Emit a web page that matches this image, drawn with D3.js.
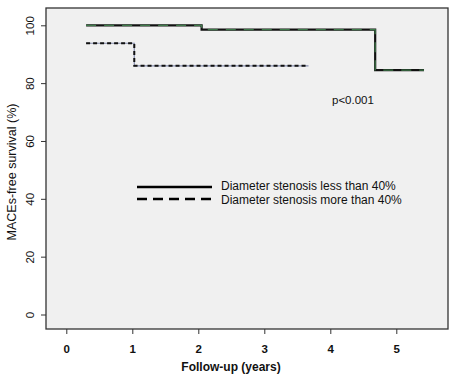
<!DOCTYPE html>
<html><head><meta charset="utf-8">
<script src="https://cdn.jsdelivr.net/npm/d3@7"></script>
<style>body{margin:0;background:#fff}svg{display:block;font-family:Arial,"Liberation Sans",sans-serif}</style>
</head><body><svg id="c" width="458" height="378"></svg>
<script>
const xTicks=[0,1,2,3,4,5];
const yTicks=[0,20,40,60,80,100];
const lessTime=[0.3,2.05,4.68,5.42];
const lessSurv=[100,98.5,84.5,84.5];
const moreTime=[0.3,1.03,3.67];
const moreSurv=[93.8,86,86];
const legendLabels=["Diameter stenosis less than 40%","Diameter stenosis more than 40%"];
const pText="p<0.001";

const svg=d3.select("#c");
const L=46,R=448,T=8,B=329;
const x=d3.scaleLinear().domain([0,5]).range([66.3,396.3]);
const y=d3.scaleLinear().domain([0,100]).range([314.5,25.3]);

svg.append("rect").attr("x",L).attr("y",T).attr("width",R-L).attr("height",B-T)
  .attr("fill","#f0f0f0").attr("stroke","#333").attr("stroke-width",1.3);

const xa=svg.append("g").attr("transform",`translate(0,${B})`)
  .call(d3.axisBottom(x).tickValues(xTicks).tickSize(5).tickPadding(11).tickFormat(d3.format("d")));
xa.select(".domain").remove();
xa.selectAll("line").attr("stroke","#333");
xa.selectAll("text").attr("font-size",11.5).attr("font-weight","bold").attr("fill","#111").attr("font-family","Arial, Liberation Sans, sans-serif");

const ya=svg.append("g").attr("transform",`translate(${L},0)`)
  .call(d3.axisLeft(y).tickValues(yTicks).tickSize(5).tickPadding(0).tickFormat(d3.format("d")));
ya.select(".domain").remove();
ya.selectAll("line").attr("stroke","#333");
ya.selectAll("text").attr("font-size",11.5).attr("fill","#111").attr("font-family","Arial, Liberation Sans, sans-serif")
  .attr("text-anchor","middle").attr("x",null).attr("dy",null)
  .attr("transform","translate(-16,0) rotate(-90)").attr("dominant-baseline","central");

svg.append("text").attr("transform","translate(12,172) rotate(-90)").attr("text-anchor","middle")
  .attr("dominant-baseline","central").attr("font-size",12.5).attr("fill","#111").text("MACEs-free survival (%)");
svg.append("text").attr("x",231).attr("y",371).attr("text-anchor","middle").attr("font-size",12)
  .attr("font-weight","bold").attr("fill","#111").text("Follow-up (years)");

const step=d3.line().x(d=>x(d[0])).y(d=>y(d[1])).curve(d3.curveStepAfter);
const lessPts=lessTime.map((t,i)=>[t,lessSurv[i]]);
const morePts=moreTime.map((t,i)=>[t,moreSurv[i]]);

svg.append("path").attr("d",step(lessPts)).attr("fill","none").attr("stroke","#111").attr("stroke-width",2.2);
svg.append("path").attr("d",step(lessPts)).attr("fill","none").attr("stroke","#3f7a4a").attr("stroke-width",1.2).attr("stroke-dasharray","10,8");

svg.append("path").attr("d",step(morePts)).attr("fill","none").attr("stroke","#8890b0").attr("stroke-width",1.2);
svg.append("path").attr("d",step(morePts)).attr("fill","none").attr("stroke","#111").attr("stroke-width",2).attr("stroke-dasharray","4,3");

svg.append("text").attr("x",332).attr("y",104).attr("font-size",11.5).attr("fill","#111").text(pText);

const lg=svg.append("g");
legendLabels.forEach((lab,i)=>{
  const yy=187+i*12;
  lg.append("line").attr("x1",137).attr("x2",212).attr("y1",yy).attr("y2",yy)
    .attr("stroke","#000").attr("stroke-width",2.4).attr("stroke-dasharray",i?"10,6":null);
  lg.append("text").attr("x",221).attr("y",yy+(i?1:-1)).attr("dominant-baseline","central").attr("font-size",12).attr("fill","#111").text(lab);
});
</script></body></html>
